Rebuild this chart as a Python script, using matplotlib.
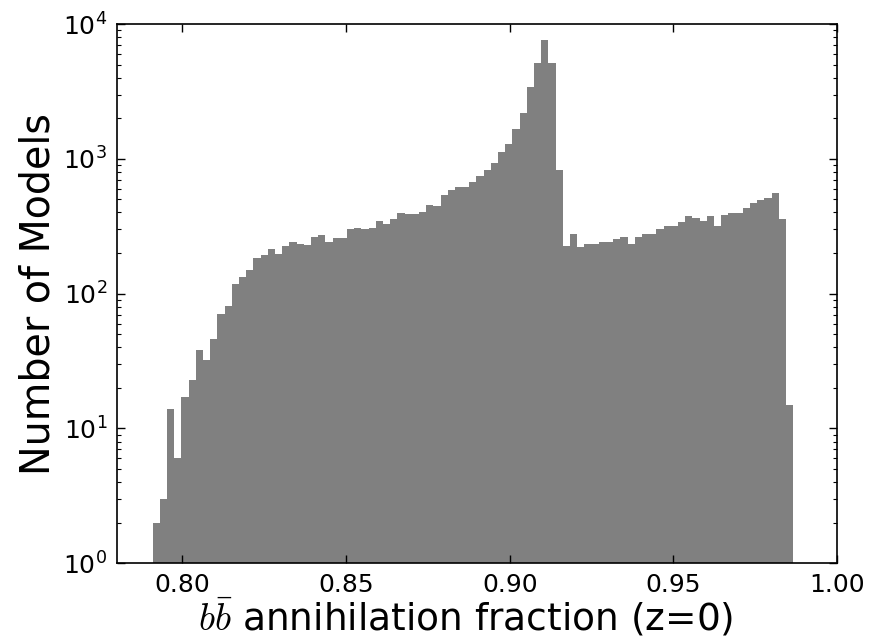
import numpy as np
import matplotlib
matplotlib.use("Agg")
import matplotlib.pyplot as plt

# bin range (89 equal bins)
x_lo = 0.7909
x_hi = 0.9866
n_bins = 89

counts = np.array([
    2, 3, 14, 6, 17, 23, 38, 32, 46, 71,
    81, 117, 133, 151, 184, 193, 213, 196, 226, 241,
    235, 231, 265, 271, 242, 260, 260, 300, 307, 300,
    307, 346, 327, 356, 395, 388, 388, 402, 453, 445,
    537, 591, 616, 616, 670, 746, 823, 927, 1119, 1290,
    1659, 2203, 3398, 5171, 7656, 5117, 823, 226, 277, 222,
    235, 235, 242, 242, 255, 265, 234, 265, 277, 277,
    300, 318, 318, 339, 375, 362, 348, 375, 319, 384,
    395, 395, 435, 473, 498, 513, 556, 356, 15,
])

xticks = [0.80, 0.85, 0.90, 0.95, 1.00]

edges = np.linspace(x_lo, x_hi, n_bins + 1)
centers = 0.5 * (edges[:-1] + edges[1:])

fig = plt.figure(figsize=(8.81, 6.39), dpi=100)
ax = fig.add_axes([0.1328, 0.1185, 0.8172, 0.8439])

ax.hist(centers, bins=edges, weights=counts, histtype="stepfilled",
        color="#808080", linewidth=0)

ax.set_yscale("log")
ax.set_xlim(0.78, 1.00)
ax.set_ylim(1, 1e4)
ax.set_xticks(xticks)
ax.set_xticklabels(["%.2f" % v for v in xticks])

ax.tick_params(which="both", direction="in", top=True, right=True,
               labelsize=18)
ax.tick_params(axis="x", pad=7)
ax.tick_params(axis="y", pad=7)
ax.tick_params(which="major", length=6, width=1)
ax.tick_params(which="minor", length=3, width=0.8)
for s in ax.spines.values():
    s.set_linewidth(1.2)

ax.set_xlabel(r"$b\bar{b}$ annihilation fraction (z=0)", fontsize=27,
              math_fontfamily="cm", va="baseline")
ax.xaxis.set_label_coords(0.485, -0.1225)
ax.set_ylabel("Number of Models", fontsize=28.5, labelpad=3)

fig.savefig("out.png", dpi=100)
